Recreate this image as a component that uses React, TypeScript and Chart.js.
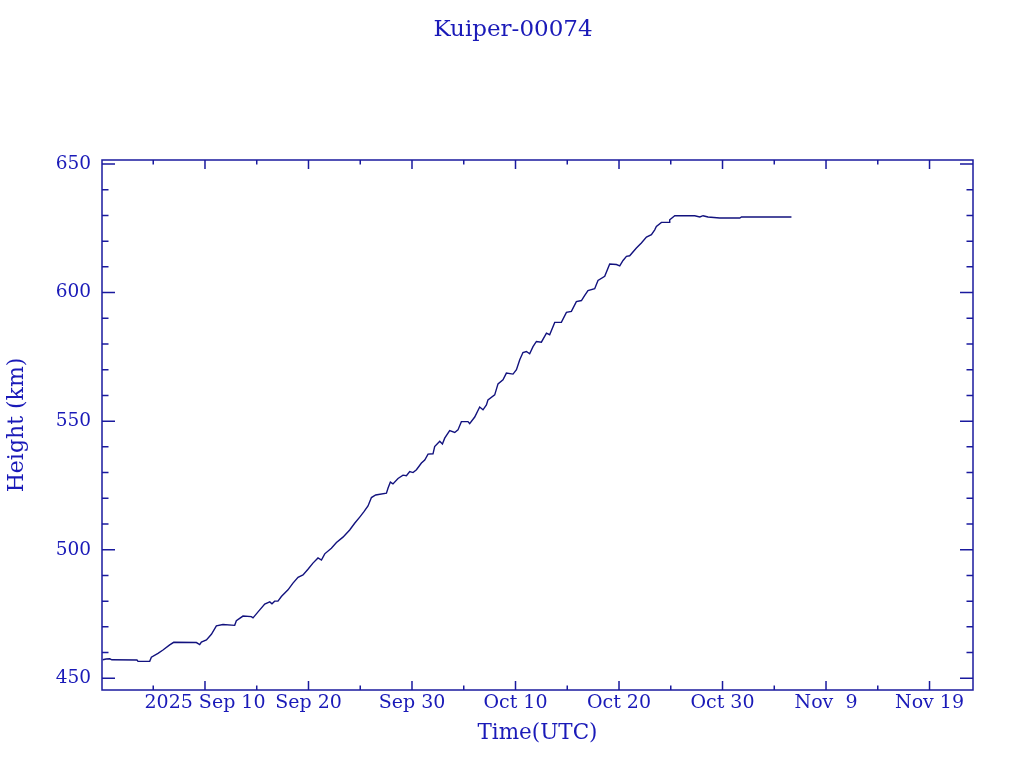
import React, { useEffect, useRef } from "react";
import { Chart, registerables } from "chart.js";

Chart.register(...registerables);

// x: days since 2025-08-31 00:00 UTC
const times = [0.12, 0.45, 0.8, 1.0, 3.43, 3.53, 4.66, 4.82, 5.46, 5.94, 6.59, 6.98, 9.17, 9.49, 9.65, 10.14, 10.62, 11.10, 11.74, 12.87, 13.03, 13.67, 14.48, 14.64, 15.29, 15.77, 16.26, 16.47, 16.73, 17.05, 17.38, 18.02, 18.50, 18.99, 19.47, 19.95, 20.43, 20.92, 21.25, 21.57, 22.21, 22.70, 23.33, 23.98, 24.46, 24.95, 25.36, 25.75, 26.08, 26.49, 27.53, 27.68, 27.91, 28.16, 28.65, 29.13, 29.46, 29.78, 30.10, 30.43, 30.91, 31.23, 31.55, 32.03, 32.19, 32.68, 32.94, 33.16, 33.64, 34.13, 34.44, 34.77, 35.41, 35.57, 36.06, 36.54, 36.86, 37.19, 37.34, 37.99, 38.31, 38.79, 39.12, 39.76, 40.09, 40.41, 40.72, 41.05, 41.37, 41.69, 42.02, 42.50, 42.99, 43.30, 43.79, 44.43, 44.92, 45.40, 45.88, 46.37, 46.69, 47.00, 47.65, 47.97, 48.62, 49.10, 49.75, 50.07, 50.39, 50.72, 51.03, 51.68, 52.16, 52.65, 53.13, 53.45, 53.61, 54.10, 54.83, 54.90, 55.39, 57.32, 57.81, 58.12, 58.60, 59.73, 61.67, 61.83, 66.66];

// height in km
const heights = [457.2, 457.5, 457.6, 457.2, 457.1, 456.6, 456.6, 458.2, 459.7, 461.0, 463.0, 464.0, 463.9, 463.1, 464.1, 464.9, 467.1, 470.4, 470.9, 470.6, 472.4, 474.2, 474.0, 473.5, 476.6, 478.9, 479.7, 479.0, 480.0, 480.0, 481.8, 484.4, 487.0, 489.3, 490.2, 492.4, 494.8, 496.8, 496.0, 498.4, 500.6, 502.8, 504.9, 507.7, 510.3, 512.7, 514.8, 517.0, 520.3, 521.3, 522.0, 523.9, 526.3, 525.6, 527.7, 529.0, 528.8, 530.4, 530.0, 531.1, 533.7, 534.9, 537.2, 537.3, 540.1, 542.2, 541.1, 543.4, 546.3, 545.6, 546.6, 549.8, 549.8, 549.0, 551.6, 555.5, 554.4, 556.3, 558.3, 560.2, 564.5, 566.1, 568.7, 568.3, 570.0, 573.9, 576.7, 577.1, 576.2, 579.0, 581.0, 580.7, 584.2, 583.6, 588.4, 588.4, 592.3, 592.7, 596.5, 596.9, 598.9, 600.8, 601.5, 604.7, 606.3, 611.1, 610.9, 610.4, 612.5, 614.1, 614.3, 617.3, 619.3, 621.6, 622.5, 624.4, 625.7, 627.3, 627.3, 628.3, 629.9, 629.9, 629.4, 629.9, 629.4, 629.0, 629.0, 629.4, 629.4];

const xMajorDays = [10, 20, 30, 40, 50, 60, 70, 80];
const xMinorDays = [5, 15, 25, 35, 45, 55, 65, 75];
const yMajor = [450, 500, 550, 600, 650];
const yMinor = [460, 470, 480, 490, 510, 520, 530, 540, 560, 570, 580, 590, 610, 620, 630, 640];

const TITLE = "Kuiper-00074";
const X_TITLE = "Time(UTC)";
const Y_TITLE = "Height (km)";
const MONTHS = ["Jan", "Feb", "Mar", "Apr", "May", "Jun", "Jul", "Aug", "Sep", "Oct", "Nov", "Dec"];
const BASE = Date.UTC(2025, 7, 31);

const TEXT_COLOR = "#1a1ab8";
const AXIS_COLOR = "#1a1a9e";
const LINE_COLOR = "#12127e";
const FONT = "'DejaVu Serif', serif";

function dayLabel(d: number): string {
  const dt = new Date(BASE + d * 86400000);
  const day = dt.getUTCDate();
  const s = MONTHS[dt.getUTCMonth()] + " " + (day < 10 ? " " : "") + day;
  return d === xMajorDays[0] ? dt.getUTCFullYear() + " " + s : s;
}

const framePlugin = {
  id: "frame",
  afterDraw(chart: any) {
    const { ctx, chartArea: a, scales } = chart;
    const x = scales.x;
    const y = scales.y;
    ctx.save();
    ctx.strokeStyle = AXIS_COLOR;
    ctx.lineWidth = 1.5;
    ctx.strokeRect(a.left, a.top, a.right - a.left, a.bottom - a.top);
    ctx.beginPath();
    const xt = (v: number, len: number) => {
      const p = x.getPixelForValue(v);
      ctx.moveTo(p, a.bottom);
      ctx.lineTo(p, a.bottom - len);
      ctx.moveTo(p, a.top);
      ctx.lineTo(p, a.top + len);
    };
    const yt = (v: number, len: number) => {
      const p = y.getPixelForValue(v);
      ctx.moveTo(a.left, p);
      ctx.lineTo(a.left + len, p);
      ctx.moveTo(a.right, p);
      ctx.lineTo(a.right - len, p);
    };
    xMajorDays.forEach((v) => xt(v, 9));
    xMinorDays.forEach((v) => xt(v, 4.5));
    yMajor.forEach((v) => yt(v, 13));
    yMinor.forEach((v) => yt(v, 6.5));
    ctx.stroke();

    ctx.fillStyle = TEXT_COLOR;
    ctx.font = "23px " + FONT;
    ctx.textAlign = "center";
    ctx.textBaseline = "middle";
    ctx.fillText(TITLE, 513, 30);
    ctx.restore();
  },
};

export default function App() {
  const ref = useRef<HTMLCanvasElement | null>(null);
  useEffect(() => {
    if (!ref.current) return;
    const chart = new Chart(ref.current, {
      type: "line",
      data: {
        datasets: [
          {
            data: times.map((t, i) => ({ x: t, y: heights[i] })),
            borderColor: LINE_COLOR,
            borderWidth: 1.4,
            pointRadius: 0,
            tension: 0,
            fill: false,
          },
        ],
      },
      options: {
        animation: false,
        responsive: false,
        devicePixelRatio: 1,
        layout: { padding: { top: 160, right: 51, left: 0, bottom: 0 } },
        plugins: { legend: { display: false }, tooltip: { enabled: false }, title: { display: false } },
        scales: {
          x: {
            type: "linear",
            min: 0.05,
            max: 84.2,
            grid: { display: false, drawTicks: false },
            border: { display: false },
            afterBuildTicks: (s: any) => {
              s.ticks = xMajorDays.map((v) => ({ value: v }));
            },
            afterFit: (s: any) => {
              s.height = 78;
            },
            ticks: {
              autoSkip: false,
              maxRotation: 0,
              padding: 2,
              color: TEXT_COLOR,
              font: { family: FONT, size: 19 },
              callback: (v: any) => dayLabel(Number(v)),
            },
            title: {
              display: true,
              text: X_TITLE,
              color: TEXT_COLOR,
              font: { family: FONT, size: 21.5 },
              padding: { top: 0, bottom: 22 },
            },
          },
          y: {
            type: "linear",
            min: 445.45,
            max: 651.56,
            grid: { display: false, drawTicks: false },
            border: { display: false },
            afterBuildTicks: (s: any) => {
              s.ticks = yMajor.map((v) => ({ value: v }));
            },
            afterFit: (s: any) => {
              s.width = 102;
            },
            ticks: {
              autoSkip: false,
              padding: 11,
              color: TEXT_COLOR,
              font: { family: FONT, size: 18.5 },
              callback: (v: any) => String(v),
            },
            title: {
              display: true,
              text: Y_TITLE,
              color: TEXT_COLOR,
              font: { family: FONT, size: 22 },
              padding: { top: 4, bottom: 0 },
            },
          },
        },
      },
      plugins: [framePlugin],
    });
    return () => chart.destroy();
  }, []);
  return (
    <div style={{ position: "fixed", left: 0, top: 0, width: 1024, height: 768, background: "#fff" }}>
      <canvas ref={ref} width={1024} height={768} style={{ display: "block" }} />
    </div>
  );
}
